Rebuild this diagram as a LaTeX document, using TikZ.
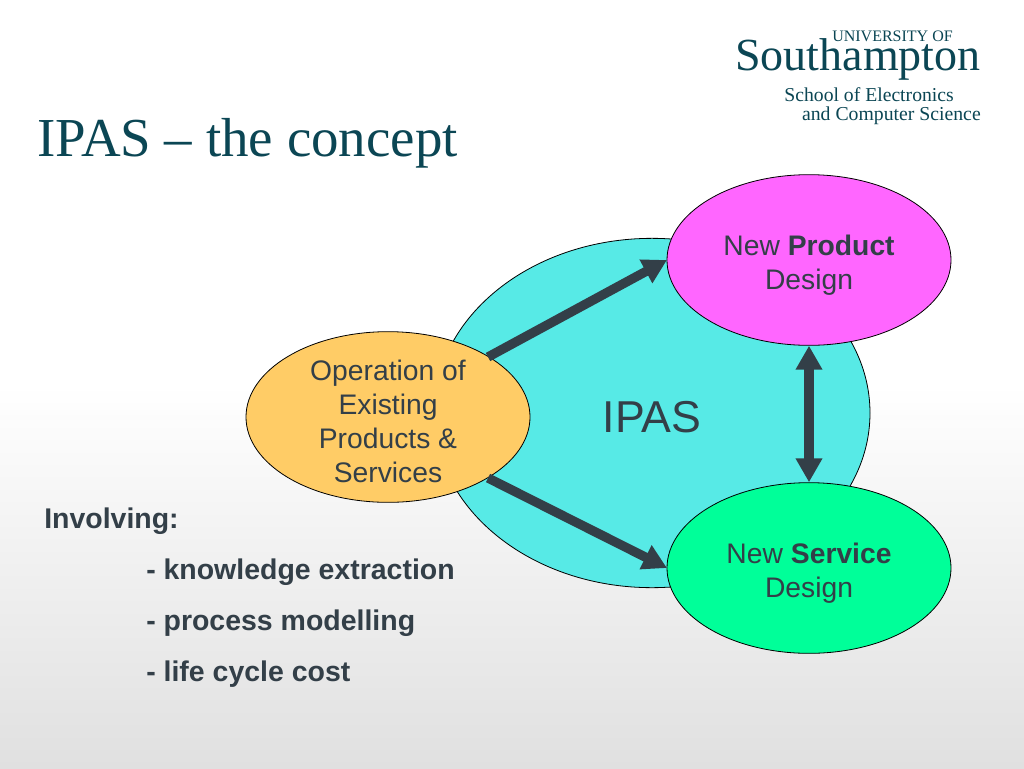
\documentclass[tikz,border=0pt]{standalone}
\usepackage{fontspec}
\setmainfont{Liberation Sans}
\newfontfamily\serifx{Liberation Serif}
\usetikzlibrary{shapes.geometric,arrows.meta}
\definecolor{titlec}{HTML}{0B4654}
\definecolor{txt}{HTML}{333F48}
\definecolor{ipasc}{HTML}{57EAE6}
\definecolor{prodc}{HTML}{FF66FF}
\definecolor{servc}{HTML}{00FF99}
\definecolor{operc}{HTML}{FFCC66}
\definecolor{botc}{HTML}{E0E0E0}
\tikzset{
  oval/.style={ellipse,draw=black,line width=0.6pt,inner sep=0pt,align=center,text=txt,font=\fontsize{21.2pt}{25.5pt}\selectfont},
  fat/.style={line width=7pt,draw=txt,-{Triangle[length=18pt,width=19pt]}},
  fatb/.style={line width=7pt,draw=txt,{Triangle[length=18pt,width=19pt]}-{Triangle[length=18pt,width=19pt]}},
  lbl/.style={anchor=west,text=txt,font=\bfseries\fontsize{21.35pt}{24pt}\selectfont,inner sep=0pt},
  logo/.style={anchor=east,text=titlec,inner sep=0pt}
}
\begin{document}
\begin{tikzpicture}[x=0.75pt,y=-0.75pt]
\useasboundingbox (0,0) rectangle (1024,768);
\fill[white] (0,0) rectangle (1024,384);
\shade[top color=white,bottom color=botc] (0,384) rectangle (1024,768);
\node[anchor=west,inner sep=0pt,text=titlec,font=\serifx\fontsize{41.2pt}{46pt}\selectfont] (title) at (37,143) {IPAS – the concept};
\node[logo,font=\serifx\fontsize{12pt}{14pt}\selectfont] (l1) at (953,36) {UNIVERSITY OF};
\node[logo,font=\serifx\fontsize{34.5pt}{38pt}\selectfont] (l2) at (981,59) {Southampton};
\node[logo,font=\serifx\fontsize{14.75pt}{17pt}\selectfont] (l3) at (954,95) {School of Electronics};
\node[logo,font=\serifx\fontsize{14.8pt}{17pt}\selectfont] (l4) at (981,116) {and Computer Science};
\node[ellipse,draw=black,line width=0.6pt,fill=ipasc,minimum width=327pt,minimum height=262pt,inner sep=0pt] (ipas) at (652,413) {};
\node[text=txt,font=\fontsize{33.5pt}{38pt}\selectfont,inner sep=0pt] (ipaslabel) at (652,417) {IPAS};
\node[oval,fill=prodc,minimum width=213pt,minimum height=128pt] (prod) at (809,260) {};
\node[oval,fill=servc,minimum width=213pt,minimum height=128pt] (serv) at (809,568) {};
\node[oval,fill=operc,minimum width=213pt,minimum height=128pt] (oper) at (388,417) {};
\node[oval,draw=none] (prodt) at (809,265) {New \textbf{Product}\\Design};
\node[oval,draw=none] (servt) at (809,573) {New \textbf{Service}\\Design};
\node[oval,draw=none] (opert) at (388,421) {Operation of\\Existing\\Products \&\\Services};
\coordinate (a1) at (488,357);
\coordinate (a2) at (667,260);
\coordinate (b1) at (488,478);
\coordinate (b2) at (667,568);
\draw[fat] (a1) -- (a2);
\draw[fat] (b1) -- (b2);
\draw[fatb] (prod.south) -- (serv.north);
\node[lbl] (inv) at (44,521) {Involving:};
\node[lbl] (k) at (146,572) {- knowledge extraction};
\node[lbl] (p) at (146,623) {- process modelling};
\node[lbl] (c) at (146,674) {- life cycle cost};
\end{tikzpicture}
\end{document}
